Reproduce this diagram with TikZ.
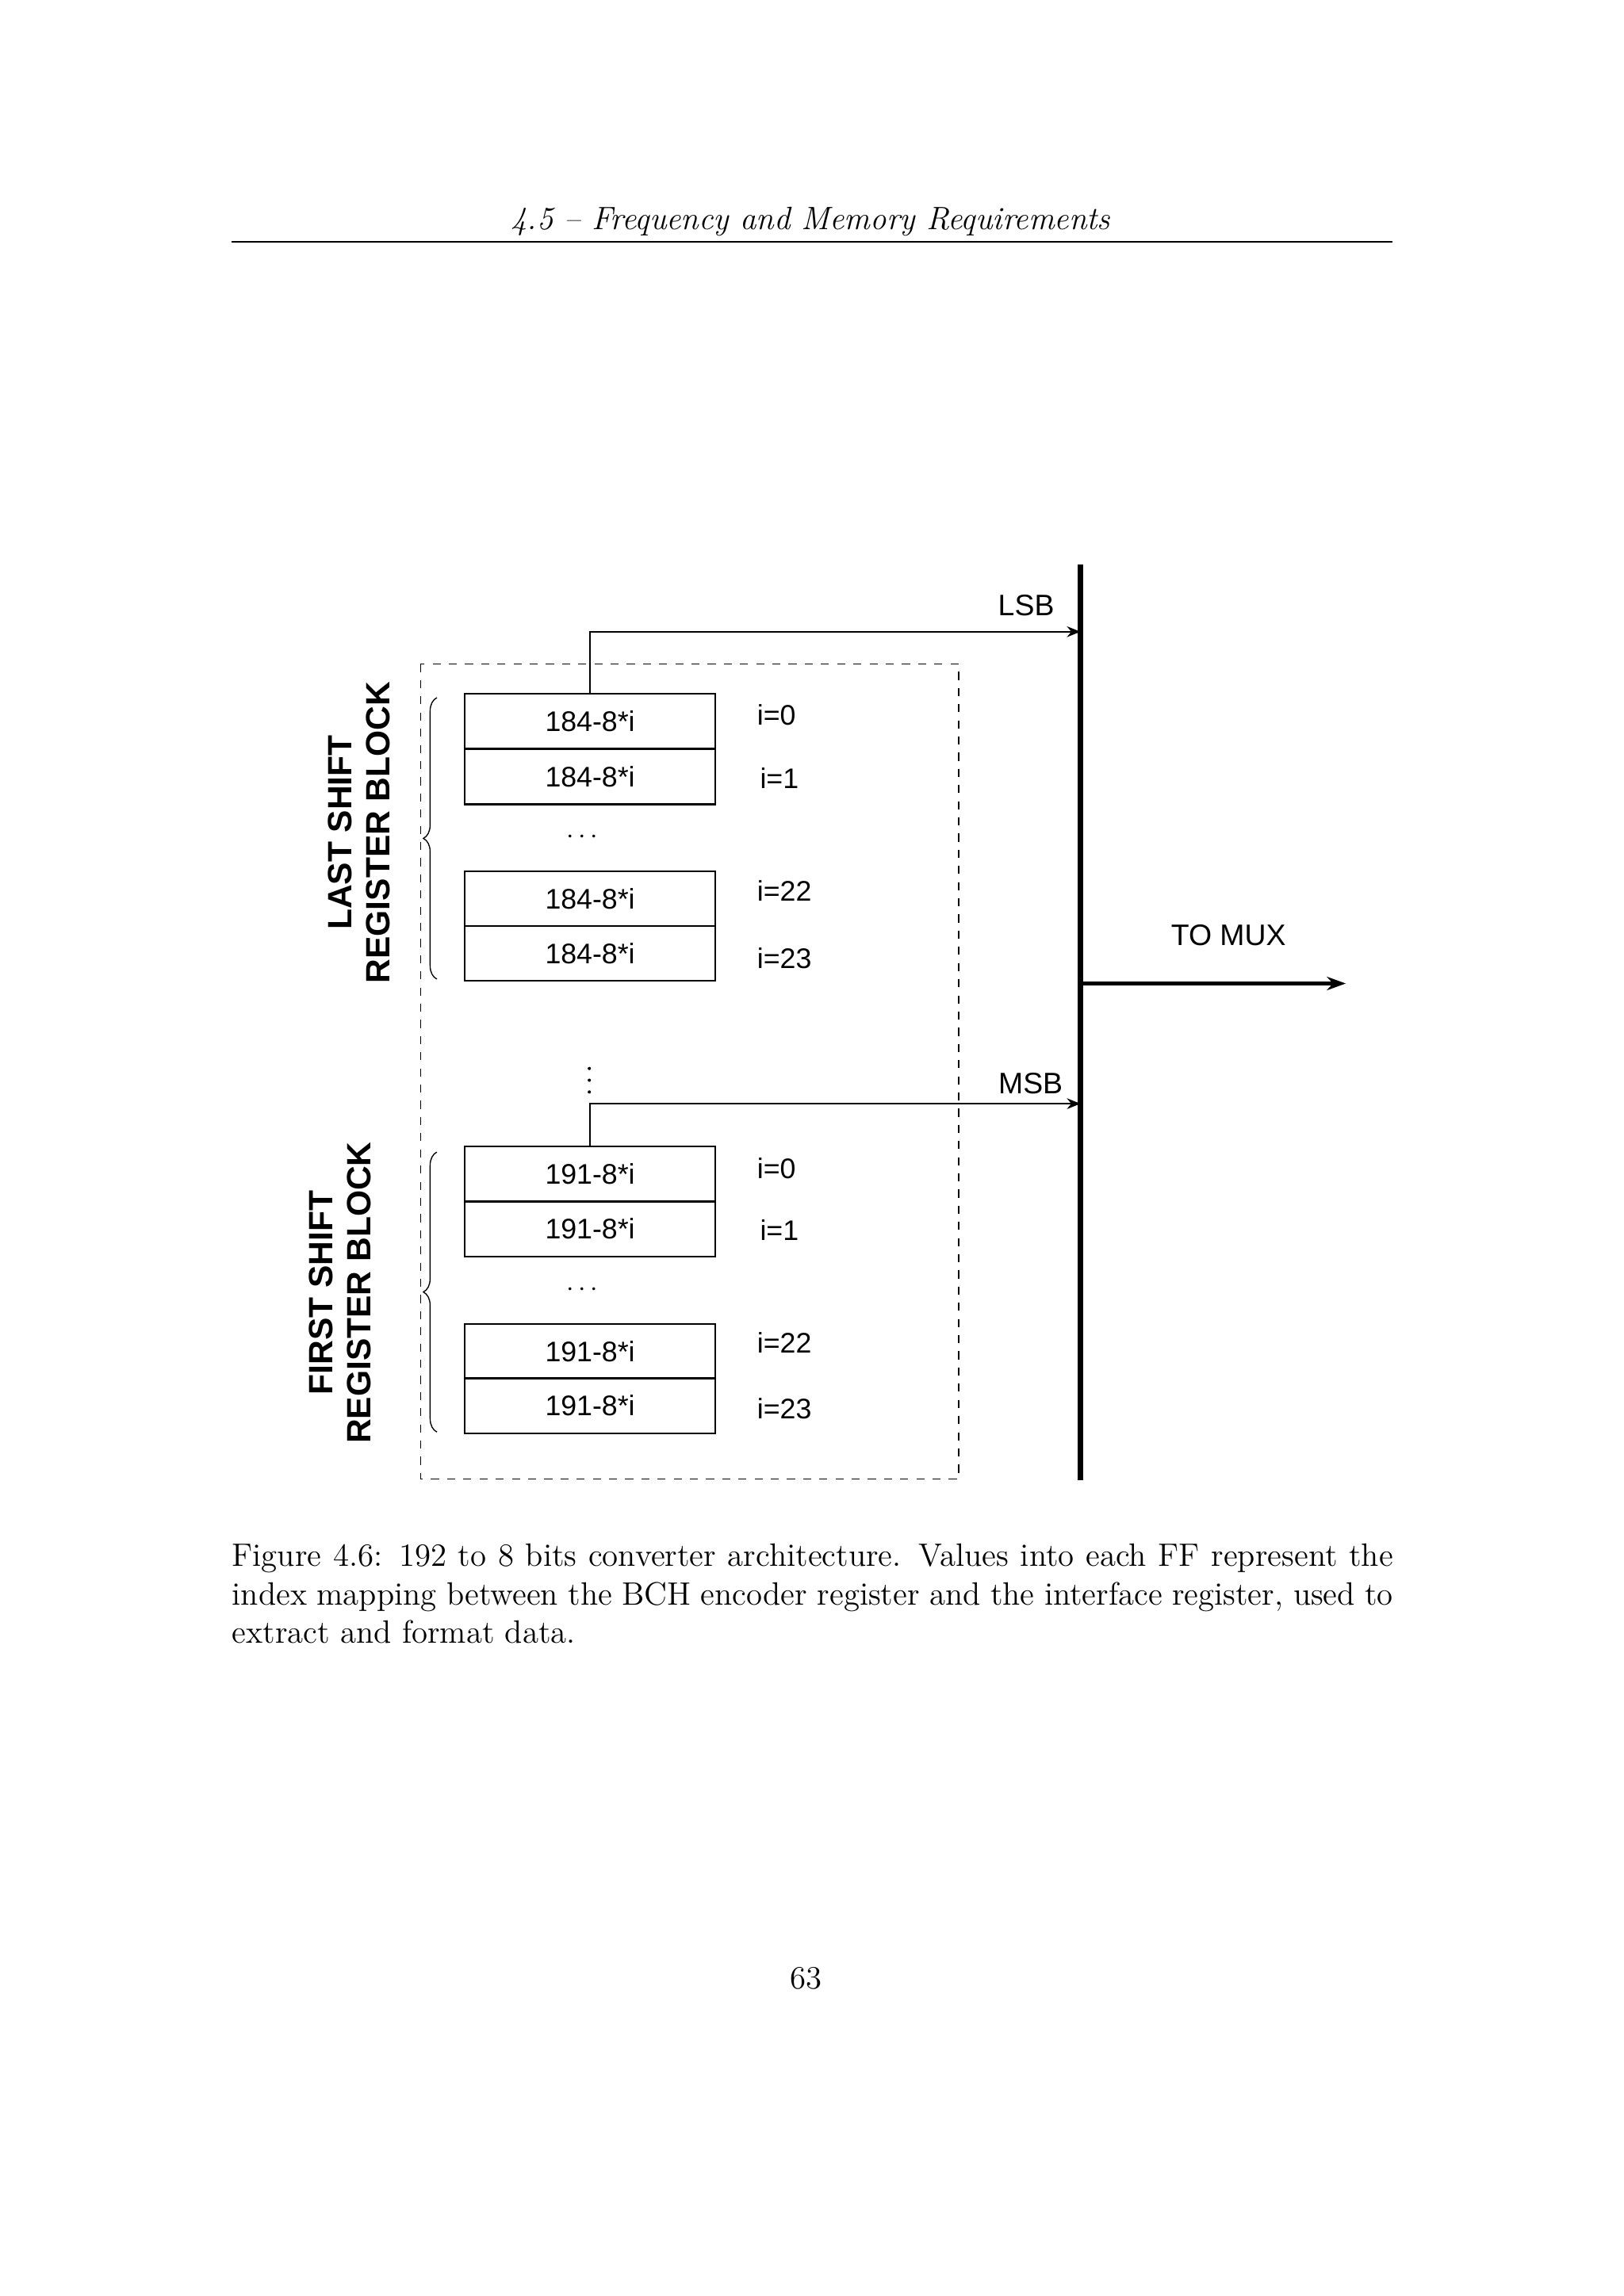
\documentclass[tikz,border=0pt]{standalone}
\usepackage{fontspec}
\newfontfamily\dsans{Liberation Sans}
\usetikzlibrary{decorations.pathreplacing,arrows.meta}
\begin{document}
\begin{tikzpicture}[x=0.0191cm,y=-0.0191cm,
  reg/.style={draw,line width=0.6pt,minimum width=171*0.0191cm,minimum height=37.5*0.0191cm,inner sep=0pt,font=\dsans\fontsize{10.5}{12}\selectfont},
  ilab/.style={font=\dsans\fontsize{10.5}{12}\selectfont,anchor=west},
  blab/.style={font=\dsans\fontsize{11}{13}\selectfont},
  arr/.style={-{Stealth[length=5pt,width=4pt]},line width=0.6pt}]
\useasboundingbox (0,0) rectangle (1107.4,1566.5);
\node[font=\itshape\fontsize{12}{14}\selectfont] (hdr) at (553,151) {4.5 -- Frequency and Memory Requirements};
\draw[line width=0.5pt] (158,165) -- (950,165);
\draw[dashed,line width=0.5pt] (287,453) rectangle (654,1009);
% top block
\node[reg] (a0) at (402.5,492) {184-8*i};
\node[reg] (a1) at (402.5,530) {184-8*i};
\node[reg] (a22) at (402.5,613) {184-8*i};
\node[reg] (a23) at (402.5,650.5) {184-8*i};
\node[ilab] (ia0) at (510,488) {i=0};
\node[ilab] (ia1) at (512,531) {i=1};
\node[ilab] (ia22) at (510,608) {i=22};
\node[ilab] (ia23) at (510,654) {i=23};
\node (da) at (397,571) {$\cdots$};
% bottom block
\node[reg] (b0) at (402.5,801) {191-8*i};
\node[reg] (b1) at (402.5,838.5) {191-8*i};
\node[reg] (b22) at (402.5,922) {191-8*i};
\node[reg] (b23) at (402.5,959) {191-8*i};
\node[ilab] (ib0) at (510,797) {i=0};
\node[ilab] (ib1) at (512,839) {i=1};
\node[ilab] (ib22) at (510,916) {i=22};
\node[ilab] (ib23) at (510,961) {i=23};
\node (db) at (397,880) {$\cdots$};
\foreach \yy in {729,737,745} \fill (402,\yy) circle (0.6pt);
% bus
\coordinate (bt) at (737,385);
\coordinate (bb) at (737,1010);
\draw[line width=2.2pt] (bt) -- (bb);
\coordinate (lsb) at (737,431);
\coordinate (msb) at (737,753);
\draw[arr] (a0.north) |- (lsb);
\draw[arr] (b0.north) |- (msb);
\node[blab] (tl) at (700,413) {LSB};
\node[blab] (tm) at (703,739) {MSB};
\coordinate (mx0) at (737,671);
\coordinate (mx1) at (918,671);
\draw[-{Stealth[length=7pt,width=5pt]},line width=1.4pt] (mx0) -- (mx1);
\node[blab] (tmux) at (838,638) {TO MUX};
% braces
\draw[decorate,decoration={brace,amplitude=5pt},line width=0.4pt] (298,668) -- (298,476);
\draw[decorate,decoration={brace,amplitude=5pt},line width=0.4pt] (298,977) -- (298,786);
\node[rotate=90,align=center,font=\dsans\bfseries\fontsize{12.5}{14}\selectfont] (la) at (245,568) {LAST SHIFT\\REGISTER BLOCK};
\node[rotate=90,align=center,font=\dsans\bfseries\fontsize{12.5}{14}\selectfont] (lb) at (232,882) {FIRST SHIFT\\REGISTER BLOCK};
% caption
\node[anchor=north west,text width=15.13cm,align=justify,inner sep=0pt,font=\fontsize{12}{14.2}\selectfont] (cap) at (158,1053) {Figure 4.6: 192 to 8 bits converter architecture. Values into each FF represent the index mapping between the BCH encoder register and the interface register, used to extract and format data.};
\node[font=\fontsize{12}{14}\selectfont] (pg) at (550,1350) {63};
\end{tikzpicture}
\end{document}
